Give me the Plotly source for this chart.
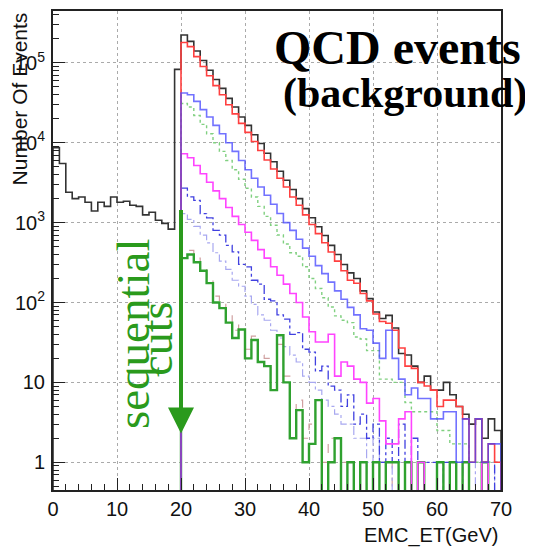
import math
import plotly.graph_objects as go

# ---------------- data (counts per 1 GeV bin) ----------------
black_start = 0
black_counts = [8700, 5500, 2400, 2000, 2100, 1800, 1400, 1800, 1600, 2100,
                1800, 1850, 1650, 1600, 1250, 1350, 1070, 980, 830, 83000,
                224000, 186000, 141000, 107000, 81000, 62000, 48000, 36000, 28000, 21000,
                16500, 12600, 9800, 7400, 5800, 4400, 3400, 2600, 2000, 1500,
                1150, 890, 690, 520, 400, 300, 235, 200, 140, 112,
                76, 63, 69, 48, 23, 22, 16, 10, 12, 8,
                8, 10, 7, 5, 4, 3, 3.5, 2, 3.5, 2.5]

cut_start = 20
red_counts = [180000, 160000, 120000, 90000, 69000, 52000, 40000, 30000, 23000, 17500,
              13500, 10400, 8000, 6100, 4700, 3600, 2800, 2100, 1650, 1250,
              950, 730, 560, 430, 330, 250, 190, 174, 130, 105,
              72, 58, 55, 45, 27, 16, 15, 10, 9, 8,
              5, 6, 6, 5, 3.5, 1, 3.5, 1, 1.7, 1]
blue_counts = [42000, 40000, 33000, 26000, 21000, 16500, 13000, 10000, 7800, 6000,
               4600, 3600, 2800, 2200, 1700, 1300, 1000, 800, 620, 480,
               380, 290, 230, 180, 140, 110, 87, 70, 47, 45,
               31, 20, 45, 20, 11, 7, 8.5, 6.3, 6.3, 3.5,
               3.5, 4.3, 4.3, 1, 3.5, 1, 3.5, 1, 1.7, 1.7]
green_dot_counts = [31000, 28000, 22000, 17000, 13000, 10000, 7800, 6000, 4600, 3500,
                    2700, 2100, 1600, 1200, 930, 700, 540, 420, 380, 280,
                    200, 150, 115, 88, 68, 60, 56, 37, 35, 25,
                    25, 11, 11, 10, 10, 5.6, 4.3, 4.3, 4.3, 4.3,
                    2.5, 2.5, 1.7, 1.7, 1.7, 1, 1, 1, 1, 1]
magenta_counts = [7300, 6500, 5200, 4100, 3200, 2500, 2000, 1550, 1200, 950,
                  760, 600, 460, 360, 280, 220, 170, 130, 100, 66,
                  43, 32, 32, 40, 12, 18, 16, 11, 10, 5.5,
                  6.3, 3.3, 1.7, 1.7, 3.5, 4.3, 0, 1, 0, 0,
                  0, 0, 0, 0, 0, 0, 0, 1, 0, 0]
bluedd_counts = [2700, 2100, 1900, 1300, 1150, 800, 700, 520, 430, 300,
                 280, 190, 170, 110, 105, 70, 62, 40, 42, 26,
                 24, 14, 16, 9, 8, 5, 7, 3, 4, 2,
                 3, 1, 2, 1, 3, 1, 2, 0, 1, 1,
                 0, 1, 0, 0, 1, 0, 0, 1, 0, 1]
lavender_counts = [1300, 1100, 900, 700, 560, 420, 330, 260, 190, 160,
                   120, 95, 70, 60, 45, 36, 28, 22, 18, 12,
                   10, 8, 6, 5, 4, 3, 3, 2, 2, 1,
                   2, 1, 1, 0, 1, 1, 0, 1, 0, 0,
                   1, 0, 0, 1, 0, 1, 0, 0, 1, 0]
brown_counts = [420, 450, 360, 280, 200, 120, 100, 70, 45, 52,
                26, 38, 22, 20, 11, 30, 12, 4, 6, 2,
                3, 5, 1, 2, 2, 1, 1, 0, 1, 0,
                1, 1, 0, 1, 0, 1, 0, 1, 0, 0,
                0, 1, 0, 0, 0, 0, 0, 0, 0, 0]
green_counts = [360, 400, 320, 250, 175, 100, 85, 56, 36, 46,
                20, 34, 18, 16, 8, 39, 10, 2, 4.5, 1,
                1.7, 6, 0, 1, 2, 0, 1, 0, 1, 0,
                1, 0, 1, 1, 0, 1, 0, 1, 0, 0,
                1, 0, 1, 0, 1, 0, 0, 1, 0, 0]

x_ticks = [0, 10, 20, 30, 40, 50, 60, 70]
y_ticks = [1, 10, 100, 1000, 10000, 100000]
y_ticktext = ["1", "10", "10<sup>2</sup>", "10<sup>3</sup>", "10<sup>4</sup>", "10<sup>5</sup>"]
cut_value = 20
arrow_top = 1500
arrow_tip = 2.3

# ---------------- figure ----------------
FLOOR = 0.05  # empty bins drop below the axis bottom (log scale)


def hist(values, start, color, width, dash="solid", opacity=1.0):
    n = len(values)
    vals = [v if v > 0 else FLOOR for v in values]
    xs = [start] + [start + i for i in range(n)] + [start + n, start + n]
    ys = [FLOOR] + vals + [vals[-1], FLOOR]
    return go.Scatter(x=xs, y=ys, mode="lines", line_shape="hv",
                      line=dict(color=color, width=width, dash=dash),
                      opacity=opacity, hoverinfo="skip", showlegend=False)


fig = go.Figure()
fig.add_trace(hist(brown_counts, cut_start, "#d0a0a0", 1.2, "dash"))
fig.add_trace(hist(lavender_counts, cut_start, "#a8a8f0", 1.2, "dashdot"))
fig.add_trace(hist(bluedd_counts, cut_start, "#4040e0", 1.3, "dashdot"))
fig.add_trace(hist(green_counts, cut_start, "#2fa12f", 2.4))
fig.add_trace(hist(magenta_counts, cut_start, "#ff44ff", 1.6))
fig.add_trace(hist(green_dot_counts, cut_start, "#80d080", 1.4, "dot"))
fig.add_trace(hist(black_counts, black_start, "#333333", 1.6))
fig.add_trace(hist(red_counts, cut_start, "#ff4040", 1.6))
fig.add_trace(hist(blue_counts, cut_start, "#4444ff", 1.6, opacity=0.75))

minor_y = [k * 10 ** e for e in range(-1, 6) for k in range(2, 10)]

# page body has an 8px margin: figure is sized/margined to compensate
fig.update_layout(
    width=525, height=541,
    margin=dict(l=45, r=32, t=3, b=59, autoexpand=False),
    paper_bgcolor="white", plot_bgcolor="white",
    font=dict(family="Liberation Sans", color="#111111", size=20),
)
fig.update_xaxes(
    range=[0, 70], tickvals=x_ticks, ticks="inside", ticklen=12, tickwidth=1.2,
    tickcolor="#222", showline=True, linecolor="#222", linewidth=2, mirror=True,
    showgrid=True, gridcolor="#aaaaaa", griddash="dot", gridwidth=1,
    zeroline=False, tickfont=dict(size=20), automargin=False,
    minor=dict(dtick=2, ticks="inside", ticklen=6, tickcolor="#222", showgrid=False),
)
fig.update_yaxes(
    type="log", range=[-0.347, 5.65], tickvals=y_ticks, ticktext=y_ticktext,
    ticks="inside", ticklen=12, tickwidth=1.2, tickcolor="#222",
    showline=True, linecolor="#222", linewidth=2, mirror=True,
    showgrid=True, gridcolor="#aaaaaa", griddash="dot", gridwidth=1,
    zeroline=False, tickfont=dict(size=20), ticklabelstandoff=2, automargin=False,
    minor=dict(tickvals=minor_y, ticks="inside", ticklen=6, tickcolor="#222", showgrid=False),
)

fig.add_annotation(x=cut_value, y=math.log10(arrow_tip), ax=cut_value, ay=math.log10(arrow_top),
                   xref="x", yref="y", axref="x", ayref="y", text="", showarrow=True,
                   arrowhead=2, arrowsize=1.3, arrowwidth=4, arrowcolor="#2a9a1c")
fig.add_annotation(x=0.179, y=0.326, xref="paper", yref="paper", text="sequential",
                   textangle=-90, showarrow=False, xanchor="center", yanchor="middle",
                   font=dict(family="Liberation Serif", size=47, color="#2a9a1c"))
fig.add_annotation(x=0.231, y=0.317, xref="paper", yref="paper", text="cuts",
                   textangle=-90, showarrow=False, xanchor="center", yanchor="middle",
                   font=dict(family="Liberation Serif", size=46, color="#2a9a1c"))
fig.add_annotation(x=0.768, y=0.923, xref="paper", yref="paper", text="<b>QCD events</b>",
                   showarrow=False, xanchor="center", yanchor="middle",
                   font=dict(family="Liberation Serif", size=48, color="black"))
fig.add_annotation(x=0.786, y=0.827, xref="paper", yref="paper", text="<b>(background)</b>",
                   showarrow=False, xanchor="center", yanchor="middle",
                   font=dict(family="Liberation Serif", size=42, color="black"))
fig.add_annotation(x=-0.074, y=1.002, xref="paper", yref="paper", text="Number Of Events",
                   textangle=-90, showarrow=False, xanchor="center", yanchor="top",
                   font=dict(family="Liberation Sans", size=21, color="#111"))
fig.add_annotation(x=0.998, y=-0.094, xref="paper", yref="paper", text="EMC_ET(GeV)",
                   showarrow=False, xanchor="right", yanchor="middle",
                   font=dict(family="Liberation Sans", size=20, color="#111"))

fig.write_html("out.html")
